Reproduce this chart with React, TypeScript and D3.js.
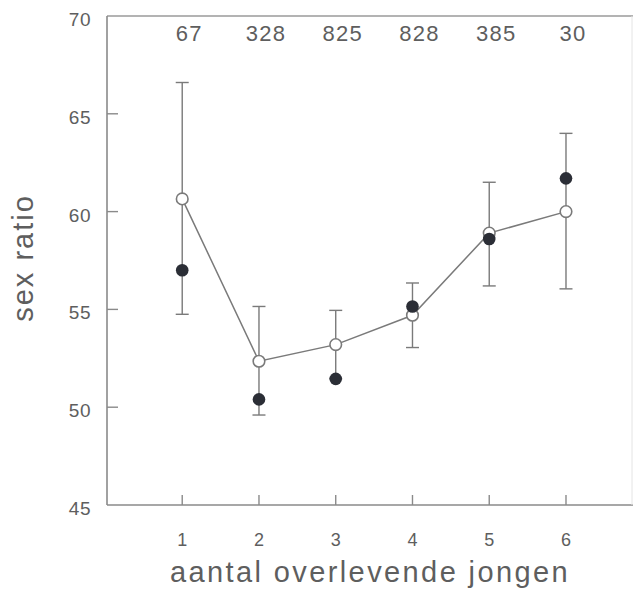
import React from "react";
import * as d3 from "d3";

// Number of surviving young (x categories)
const jongen = [1, 2, 3, 4, 5, 6];
// Sample size per category, printed along the top
const aantallen = ["67", "328", "825", "828", "385", "30"];
// Observed sex ratio (open circles, connected)
const waargenomen = [60.65, 52.35, 53.2, 54.7, 58.9, 60.0];
// Error bar limits around the observed values
const onder = [54.75, 49.6, 51.45, 53.05, 56.2, 56.05];
const boven = [66.6, 55.15, 54.95, 56.35, 61.5, 64.0];
// Second series (filled dots)
const verwacht = [57.0, 50.4, 51.45, 55.15, 58.6, 61.7];
// Axis ticks
const yTicks = [45, 50, 55, 60, 65, 70];

const W = 634;
const H = 597;
const left = 107;
const right = 632;
const top = 16;
const bottom = 505;

const textColor = "#5e5e5e";
const lineColor = "#8a8a8a";
const font = "'Liberation Sans', Arial, Helvetica, sans-serif";

export default function App() {
  const x = d3.scaleLinear().domain([0.02, 6.86]).range([left, right]);
  const y = d3.scaleLinear().domain([45, 70]).range([bottom, top]);

  const pts = jongen.map((j, i) => ({
    j,
    n: aantallen[i],
    obs: waargenomen[i],
    lo: onder[i],
    hi: boven[i],
    fill: verwacht[i],
  }));

  const line = d3
    .line<{ j: number; obs: number }>()
    .x((d) => x(d.j))
    .y((d) => y(d.obs));

  const cap = 6.5;

  return (
    <svg
      width={W}
      height={H}
      style={{ position: "absolute", left: 0, top: 0, background: "#fff" }}
      fontFamily={font}
    >
      {/* frame */}
      <line x1={left} y1={top} x2={right + 1} y2={top} stroke="#9a9a9a" strokeWidth={1.6} />
      <line x1={left} y1={top} x2={left} y2={bottom} stroke={lineColor} strokeWidth={1.6} />
      <line x1={left} y1={bottom} x2={right + 1} y2={bottom} stroke={lineColor} strokeWidth={1.6} />
      <line x1={right} y1={top} x2={right} y2={bottom} stroke="#e4e4e4" strokeWidth={1} />

      {/* y ticks and labels */}
      {yTicks.map((t) => (
        <g key={t}>
          {t > 45 && t < 70 && (
            <line x1={left} x2={left + 11} y1={y(t)} y2={y(t)} stroke={lineColor} strokeWidth={1.4} />
          )}
          <text
            x={91}
            y={y(t) + 10}
            textAnchor="end"
            fontSize={19}
            fill={textColor}
            letterSpacing={0.5}
          >
            {t}
          </text>
        </g>
      ))}

      {/* x ticks and labels */}
      {jongen.map((j) => (
        <g key={j}>
          <line x1={x(j)} x2={x(j)} y1={bottom} y2={bottom - 10} stroke={lineColor} strokeWidth={1.4} />
          <text x={x(j)} y={546} textAnchor="middle" fontSize={18} fill={textColor}>
            {j}
          </text>
        </g>
      ))}

      {/* sample sizes */}
      {pts.map((p) => (
        <text
          key={"n" + p.j}
          x={x(p.j) + 7}
          y={41}
          textAnchor="middle"
          fontSize={22}
          fill={textColor}
          letterSpacing={1.2}
        >
          {p.n}
        </text>
      ))}

      {/* axis titles */}
      <text
        x={370}
        y={582}
        textAnchor="middle"
        fontSize={29}
        fill={textColor}
        letterSpacing={2.4}
      >
        aantal overlevende jongen
      </text>
      <text
        transform={`translate(33,258) rotate(-90)`}
        textAnchor="middle"
        fontSize={29}
        fill={textColor}
        letterSpacing={2}
      >
        sex ratio
      </text>

      {/* error bars */}
      {pts.map((p) => (
        <g key={"e" + p.j} stroke="#7a7a7a" strokeWidth={1.4}>
          <line x1={x(p.j)} x2={x(p.j)} y1={y(p.lo)} y2={y(p.hi)} />
          <line x1={x(p.j) - cap} x2={x(p.j) + cap} y1={y(p.hi)} y2={y(p.hi)} />
          <line x1={x(p.j) - cap} x2={x(p.j) + cap} y1={y(p.lo)} y2={y(p.lo)} />
        </g>
      ))}

      {/* connecting line */}
      <path d={line(pts) ?? ""} fill="none" stroke="#7a7a7a" strokeWidth={1.5} />

      {/* open circles */}
      {pts.map((p) => (
        <circle
          key={"o" + p.j}
          cx={x(p.j)}
          cy={y(p.obs)}
          r={5.8}
          fill="#fff"
          stroke="#7a7a7a"
          strokeWidth={1.6}
        />
      ))}

      {/* filled dots */}
      {pts.map((p) => (
        <circle key={"f" + p.j} cx={x(p.j)} cy={y(p.fill)} r={6.3} fill="#2b2e36" />
      ))}
    </svg>
  );
}
